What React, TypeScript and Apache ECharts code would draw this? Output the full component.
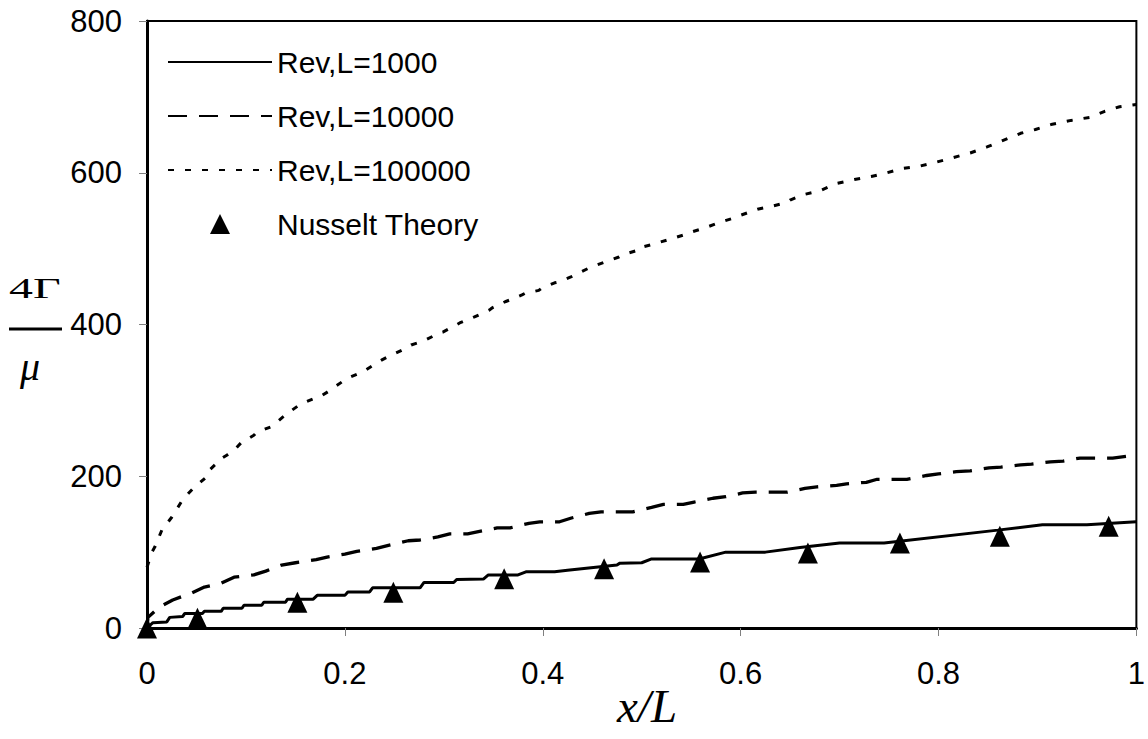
import React, { useEffect, useRef } from "react";
import * as echarts from "echarts";

const seriesNames = ["Rev,L=1000", "Rev,L=10000", "Rev,L=100000", "Nusselt Theory"];

const re1000: [number, number][] = [
  [0, 0], [0.006, 7], [0.02, 8], [0.023, 14], [0.036, 15], [0.038, 19], [0.056, 19], [0.058, 22],
  [0.075, 22], [0.077, 26], [0.096, 26], [0.098, 30], [0.116, 30], [0.118, 34], [0.14, 34], [0.142, 38],
  [0.168, 38], [0.172, 43], [0.2, 43], [0.203, 47.5], [0.225, 47.5], [0.228, 53], [0.276, 53], [0.28, 60],
  [0.31, 60], [0.313, 64], [0.34, 64.5], [0.345, 70], [0.375, 70], [0.383, 74], [0.412, 74], [0.425, 76],
  [0.475, 83], [0.478, 85.5], [0.5, 86], [0.51, 91], [0.558, 91], [0.585, 100], [0.625, 100], [0.66, 106],
  [0.7, 112], [0.745, 112], [0.86, 129], [0.905, 136], [0.95, 136], [1.0, 140],
];

const re10000: [number, number][] = [
  [0, 0], [0.001, 14], [0.013, 28], [0.026, 37], [0.045, 46], [0.058, 54], [0.075, 59], [0.088, 67],
  [0.108, 70], [0.12, 75], [0.136, 83], [0.15, 86], [0.171, 90], [0.182, 93.5], [0.2, 97.5], [0.212, 101],
  [0.232, 105], [0.244, 109], [0.264, 115], [0.276, 116], [0.294, 120], [0.306, 124], [0.324, 124],
  [0.354, 132], [0.367, 132], [0.386, 138], [0.397, 140], [0.417, 140], [0.429, 145], [0.447, 151],
  [0.459, 153], [0.491, 153], [0.51, 159], [0.522, 163], [0.542, 163], [0.553, 166], [0.572, 171],
  [0.585, 173], [0.602, 178], [0.615, 179], [0.647, 179], [0.665, 184], [0.677, 186], [0.697, 188],
  [0.707, 190], [0.727, 192], [0.738, 196], [0.768, 196], [0.788, 201], [0.8, 203], [0.818, 206],
  [0.832, 207], [0.851, 211], [0.863, 212], [0.883, 215], [0.894, 216], [0.913, 219], [0.926, 220],
  [0.943, 224], [0.976, 224], [1.0, 228],
];

const re100000: [number, number][] = [
  [0, 80], [0.005, 100], [0.008, 107], [0.015, 129], [0.025, 146], [0.036, 169], [0.048, 186], [0.053, 191],
  [0.06, 199], [0.063, 208], [0.076, 224], [0.081, 228], [0.09, 237], [0.095, 244], [0.108, 254], [0.111, 258],
  [0.125, 265], [0.13, 270], [0.14, 281], [0.155, 295], [0.17, 303], [0.174, 304], [0.186, 314], [0.19, 318],
  [0.2, 327], [0.206, 331], [0.217, 337], [0.221, 340], [0.232, 349], [0.237, 353], [0.247, 360], [0.251, 362],
  [0.264, 370], [0.267, 373], [0.279, 378], [0.296, 389], [0.299, 390], [0.312, 399], [0.316, 402], [0.331, 410],
  [0.346, 419], [0.349, 422], [0.362, 430], [0.366, 432], [0.379, 439], [0.382, 441], [0.396, 445], [0.399, 448],
  [0.412, 455], [0.416, 456], [0.429, 463], [0.432, 465], [0.446, 474], [0.462, 482], [0.477, 489], [0.481, 492],
  [0.4965, 498], [0.4975, 501], [0.512, 506], [0.53, 513], [0.545, 519], [0.548, 521], [0.563, 527], [0.565, 528],
  [0.58, 535], [0.597, 542], [0.6, 544], [0.613, 550], [0.617, 552], [0.632, 556], [0.647, 561], [0.65, 564],
  [0.663, 571], [0.68, 576], [0.697, 586], [0.715, 591], [0.732, 595], [0.748, 600], [0.765, 606], [0.782, 609],
  [0.798, 614], [0.815, 620], [0.832, 626], [0.849, 634], [0.866, 643], [0.883, 652], [0.898, 657], [0.915, 664],
  [0.934, 669], [0.953, 673], [0.968, 681], [0.983, 687], [1.0, 690],
];

const nusseltX = [0, 0.051, 0.152, 0.249, 0.361, 0.462, 0.559, 0.668, 0.761, 0.862, 0.972];
const nusseltY = [0, 13, 34, 47, 65, 78, 87, 99, 112, 121, 134];

const xMin = 0, xMax = 1, xStep = 0.2;
const yMin = 0, yMax = 800, yStep = 200;

const FONT = "'Liberation Sans', Arial, sans-serif";
const SERIF = "'Liberation Serif', 'Times New Roman', serif";
const HIDDEN_SYMBOL = { color: "rgba(0,0,0,0)", borderWidth: 0, opacity: 0 };

export default function App() {
  const ref = useRef<HTMLDivElement>(null);
  useEffect(() => {
    document.body.style.margin = "0";
    const chart = echarts.init(ref.current!, null, { renderer: "svg" });
    const option: any = {
      animation: false,
      backgroundColor: "#fff",
      grid: {
        left: 147, right: 4, top: 21, bottom: 111,
        show: true, borderColor: "#000", borderWidth: 2, backgroundColor: "transparent",
      },
      legend: {
        orient: "vertical",
        left: 167, top: 47, padding: 0,
        itemWidth: 104, itemHeight: 20, itemGap: 24,
        selectedMode: false,
        symbolKeepAspect: true,
        data: [
          { name: seriesNames[0], itemStyle: HIDDEN_SYMBOL },
          { name: seriesNames[1], itemStyle: HIDDEN_SYMBOL },
          { name: seriesNames[2], itemStyle: HIDDEN_SYMBOL },
          { name: seriesNames[3], icon: "path://M0,20L10,0L20,20Z", itemStyle: { color: "#000", opacity: 1 } },
        ],
        textStyle: { fontFamily: FONT, fontSize: 30, color: "#000", lineHeight: 30 },
      },
      xAxis: {
        type: "value", min: xMin, max: xMax, interval: xStep,
        axisLine: { show: true, onZero: false, lineStyle: { color: "#000", width: 3 } },
        axisTick: { show: true, inside: false, length: 8, lineStyle: { color: "#808080", width: 1 } },
        splitLine: { show: false },
        axisLabel: { fontFamily: FONT, fontSize: 31, color: "#000", margin: 30, showMaxLabel: true, showMinLabel: true },
      },
      yAxis: {
        type: "value", min: yMin, max: yMax, interval: yStep,
        axisLine: { show: true, onZero: false, lineStyle: { color: "#000", width: 3 } },
        axisTick: { show: true, inside: false, length: 8, lineStyle: { color: "#808080", width: 1 } },
        splitLine: { show: false },
        axisLabel: { fontFamily: FONT, fontSize: 31, color: "#000", margin: 25 },
      },
      graphic: [
        { type: "text", x: 617, y: 682, style: { text: "x/L", font: `italic 47px ${SERIF}`, fill: "#000", verticalAlign: "top" } },
        { type: "text", x: 9, y: 273, scaleX: 1.6, style: { text: "4Γ", font: `30px ${SERIF}`, fill: "#000", verticalAlign: "top" } },
        { type: "line", shape: { x1: 9, y1: 329, x2: 62, y2: 329 }, style: { stroke: "#000", lineWidth: 3 } },
        { type: "text", x: 20, y: 346, style: { text: "μ", font: `italic 40px ${SERIF}`, fill: "#000", verticalAlign: "top" } },
      ],
      series: [
        { name: seriesNames[0], type: "line", data: re1000, symbol: "none", lineStyle: { color: "#000", width: 3, type: "solid" }, itemStyle: { color: "#000" }, z: 3 },
        { name: seriesNames[1], type: "line", data: re10000, symbol: "none", lineStyle: { color: "#000", width: 3.3, type: [19, 12] }, itemStyle: { color: "#000" }, z: 3 },
        { name: seriesNames[2], type: "line", data: re100000, symbol: "none", lineStyle: { color: "#000", width: 3, type: [6, 11] }, itemStyle: { color: "#000" }, z: 3 },
        {
          name: seriesNames[3], type: "scatter", symbol: "triangle", symbolSize: [20, 21], clip: false,
          data: nusseltX.map((x, i) => [x, nusseltY[i]]), itemStyle: { color: "#000", opacity: 1 }, z: 5,
        },
      ],
    };
    chart.setOption(option);
    return () => chart.dispose();
  }, []);
  return <div ref={ref} style={{ width: 1148, height: 739 }} />;
}
